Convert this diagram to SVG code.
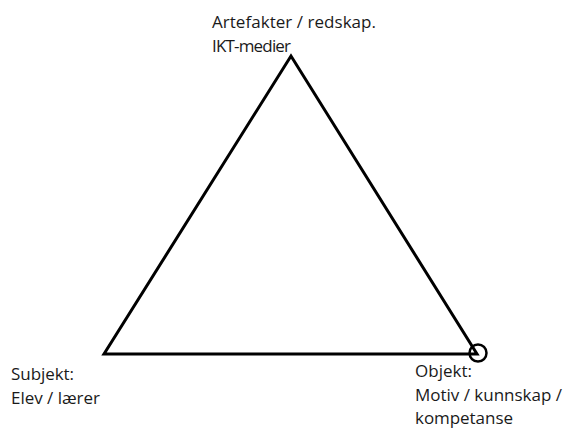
<svg xmlns="http://www.w3.org/2000/svg" width="569" height="430" viewBox="0 0 569 430">
<style>
.t{font-family:"Open Sans","Liberation Sans",sans-serif;font-size:17px;fill:#1a1a1a}
.l{fill:none;stroke:#000;stroke-width:3;stroke-linejoin:miter}
</style>
<rect width="569" height="430" fill="#fff"/>
<g id="connectors">
<polygon class="l" points="291,56 104,354 477,354"/>
</g>
<g id="artefakter">
<text class="t" x="212" y="28" textLength="164">Artefakter / redskap.</text>
<text class="t" x="212" y="52" textLength="79">IKT-medier</text>
</g>
<g id="subjekt">
<text class="t" x="11" y="380" textLength="63">Subjekt:</text>
<text class="t" x="11" y="404" textLength="89">Elev / lærer</text>
</g>
<g id="objekt">
<circle cx="478" cy="353" r="8.5" fill="none" stroke="#000" stroke-width="2.5"/>
<text class="t" x="415" y="377" textLength="57">Objekt:</text>
<text class="t" x="415" y="401" textLength="147">Motiv / kunnskap /</text>
<text class="t" x="415" y="424" textLength="98">kompetanse</text>
</g>
</svg>
